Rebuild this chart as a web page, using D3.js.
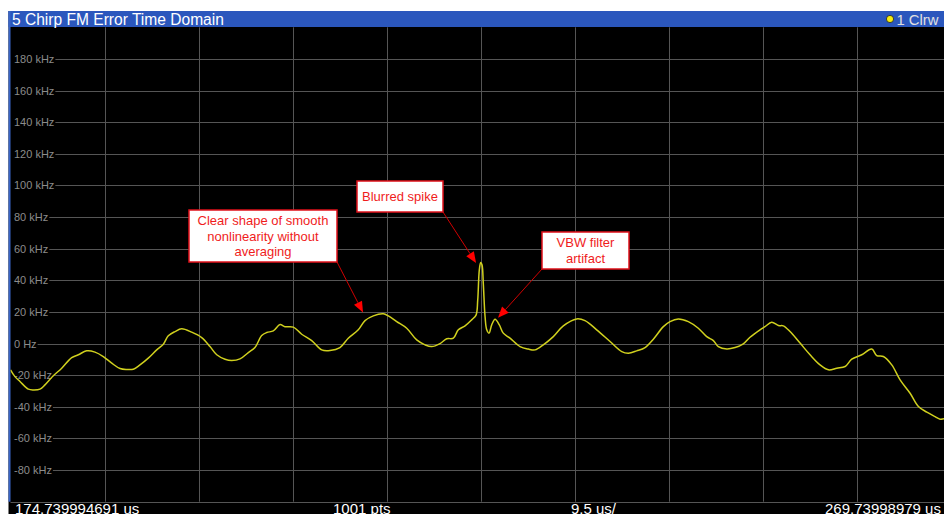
<!DOCTYPE html>
<html><head><meta charset="utf-8">
<script src="https://cdn.jsdelivr.net/npm/d3@7"></script>
<style>html,body{margin:0;padding:0;background:#fff;overflow:hidden}</style>
</head><body><svg id="c" width="944" height="514"></svg>
<script>
// ---- data ----
const xStart = 174.739994691;
const xEnd = 269.73998979;
const times = [174.74,175.19,175.70,176.54,177.04,177.72,178.22,179.06,179.91,180.92,181.59,182.43,183.27,184.11,184.96,185.80,186.47,187.14,187.81,188.65,189.50,190.17,190.67,191.35,192.02,193.03,194.04,194.88,195.56,196.40,197.07,197.91,198.75,199.42,200.10,200.61,201.27,201.95,202.45,203.29,204.14,205.15,206.16,206.99,208.00,208.84,209.85,210.53,211.37,212.38,212.88,213.73,214.74,215.75,216.59,217.26,218.10,218.78,219.45,219.95,220.63,221.30,221.74,221.91,222.07,222.21,222.34,222.47,222.65,222.82,223.05,223.32,223.66,224.09,224.49,225.17,226.18,227.02,227.70,228.53,229.54,230.55,231.90,232.74,233.92,235.27,236.45,237.12,237.96,238.80,239.64,240.65,241.32,242.16,243.17,244.18,245.03,245.70,246.20,247.05,247.89,248.72,249.40,250.41,250.91,251.59,252.26,252.76,253.44,254.45,255.46,256.47,257.31,258.16,259.00,259.67,260.68,261.69,262.19,262.86,263.71,264.55,265.56,266.40,267.25,268.08,268.59,268.99,269.74];
const values = [-16.6,-20.9,-24.0,-28.8,-29.3,-28.8,-26.1,-20.4,-15.6,-8.9,-7.1,-4.6,-5.4,-8.2,-12.4,-15.8,-16.4,-16.2,-13.5,-9.2,-4.0,-0.4,4.9,7.6,9.3,7.2,3.8,-1.9,-7.1,-9.9,-10.7,-9.7,-5.7,-2.5,5.1,7.0,8.0,12.0,10.7,10.4,5.9,1.9,-4.0,-4.4,-2.5,3.4,8.7,14.5,17.5,18.8,17.5,13.9,9.7,2.3,-0.8,-1.9,0.0,3.0,3.4,8.7,11.2,15.0,18.0,27.6,46.6,51.2,49.8,38.2,17.1,8.7,6.6,11.8,15.4,11.8,6.6,3.4,-1.9,-3.5,-4.0,-0.8,4.4,11.2,15.6,14.5,8.7,1.3,-5.1,-6.1,-4.6,-2.5,2.8,10.7,13.9,15.6,13.9,9.7,4.4,1.9,-1.9,-3.4,-2.5,-0.2,4.0,8.7,10.7,13.5,11.4,11.2,7.6,0.3,-7.1,-13.5,-16.6,-15.6,-14.5,-9.9,-7.1,-3.5,-7.6,-8.2,-13.5,-23.0,-31.4,-39.8,-43.4,-46.2,-47.8,-47.6,-47.4];
const yTickValues = [-80,-60,-40,-20,0,20,40,60,80,100,120,140,160,180];
const xDivisions = 10;
const bottomLabels = ["174.739994691 us","1001 pts","9.5 us/","269.73998979 us"];
const titleText = "5 Chirp FM Error Time Domain";
const traceLabel = "1 Clrw";
const annotationTexts = [["Clear shape of smooth","nonlinearity without","averaging"],["Blurred spike"],["VBW filter","artifact"]];
const annotationTargetTimes = [210.33, 221.74, 223.96];
const annotationTargetValues = [19.6, 51.0, 16.3];

// ---- layout ----
const W = 944, H = 514;
const plot = {left: 10.5, right: 951.5, top: 27.3, bottom: 501.7};
const boxes = [
  {x:189, y:210, w:148, h:52, ax:337, ay:262},
  {x:357, y:181, w:86, h:31, ax:443, ay:212},
  {x:542, y:232, w:87, h:37, ax:542, ay:269}
];
const FONT = "'Liberation Sans', Arial, sans-serif";

const svg = d3.select("#c");
const x = d3.scaleLinear().domain([xStart, xEnd]).range([plot.left, plot.right]);
const y = d3.scaleLinear().domain([-100, 200]).range([plot.bottom, plot.top]);

function fitText(sel, target) {
  const w = sel.node().getComputedTextLength();
  const fs = parseFloat(sel.style("font-size"));
  sel.style("font-size", (fs * target / w) + "px");
}

// backgrounds
svg.append("rect").attr("x",0).attr("y",0).attr("width",W).attr("height",H).attr("fill","#fff");
svg.append("rect").attr("x",8.5).attr("y",11).attr("width",W-8.5).attr("height",H-11).attr("fill","#000");
// title bar
svg.append("rect").attr("x",8.5).attr("y",11).attr("width",W-8.5).attr("height",16).attr("fill","#2b57bd");
// left blue border
svg.append("rect").attr("x",8.5).attr("y",11).attr("width",2).attr("height",plot.bottom-11).attr("fill","#3a66c8");

const tt = svg.append("text").attr("x",12).attr("y",24.5).attr("fill","#fff")
  .style("font-family",FONT).style("font-size","14.5px").text(titleText);
fitText(tt, 212);
svg.append("circle").attr("cx",890).attr("cy",19).attr("r",3.6).attr("fill","#f5ee10").attr("stroke","#222").attr("stroke-width",0.8);
const lt = svg.append("text").attr("x",896.5).attr("y",24.5).attr("fill","#e0e0e0")
  .style("font-family",FONT).style("font-size","14px").text(traceLabel);
fitText(lt, 42);

const gridColor = "#555";
// vertical grid
const vTicks = d3.range(1, xDivisions).map(i => xStart + i*(xEnd-xStart)/xDivisions);
svg.append("g").selectAll("line").data(vTicks).join("line")
  .attr("x1", d => Math.round(x(d))+0.5).attr("x2", d => Math.round(x(d))+0.5)
  .attr("y1", plot.top).attr("y2", plot.bottom)
  .attr("stroke", gridColor).attr("stroke-width",1);
// bottom border line
svg.append("line").attr("x1",plot.left).attr("x2",W).attr("y1",Math.round(plot.bottom)+0.5).attr("y2",Math.round(plot.bottom)+0.5)
  .attr("stroke",gridColor);

// horizontal grid with labels
const yg = svg.append("g");
yTickValues.forEach(v => {
  const yy = Math.round(y(v))+0.5;
  const t = yg.append("text").attr("x",14).attr("y",yy).attr("dy","0.35em")
    .attr("fill","#8c8c8c").style("font-family",FONT).style("font-size","11px")
    .text(v === 0 ? "0 Hz" : v + " kHz");
  const tw = t.node().getComputedTextLength();
  yg.append("line").attr("x1",14+tw+1).attr("x2",W).attr("y1",yy).attr("y2",yy)
    .attr("stroke",gridColor).attr("stroke-width",1);
});

// trace
const pts = times.map((t,i)=>[t, values[i]]);
svg.append("defs").append("clipPath").attr("id","clip").append("rect")
  .attr("x",plot.left).attr("y",plot.top).attr("width",plot.right-plot.left).attr("height",plot.bottom-plot.top);
svg.append("path").datum(pts).attr("clip-path","url(#clip)")
  .attr("d", d3.line().x(d=>x(d[0])).y(d=>y(d[1])).curve(d3.curveCatmullRom.alpha(0.5)))
  .attr("fill","none").attr("stroke","#d0d01e").attr("stroke-width",1.5);

// bottom labels
const bx = [15, 333, 571, 825];
bottomLabels.forEach((s,i)=>{
  svg.append("text").attr("x",bx[i]).attr("y",513.5).attr("fill","#fff")
    .style("font-family",FONT).style("font-size","15px").text(s);
});

// annotations
const ann = svg.append("g");
boxes.forEach((b,i)=>{
  const tx = x(annotationTargetTimes[i]), ty = y(annotationTargetValues[i]);
  const dx = tx-b.ax, dy = ty-b.ay, len = Math.hypot(dx,dy);
  const ux = dx/len, uy = dy/len, L = 11, hw = 4.5;
  const bxp = tx - ux*L, byp = ty - uy*L;
  ann.append("line").attr("x1",b.ax).attr("y1",b.ay).attr("x2",bxp).attr("y2",byp)
    .attr("stroke","#d00000").attr("stroke-width",1);
  ann.append("polygon").attr("points",[[tx,ty],[bxp-uy*hw,byp+ux*hw],[bxp+uy*hw,byp-ux*hw]].map(p=>p.join(",")).join(" "))
    .attr("fill","#ff0000");
  ann.append("rect").attr("x",b.x).attr("y",b.y).attr("width",b.w).attr("height",b.h)
    .attr("fill","#fff").attr("stroke","#e0101a").attr("stroke-width",1.5);
  const lines = annotationTexts[i];
  const cy = b.y + b.h/2, lh = 15.5;
  lines.forEach((ln,j)=>{
    ann.append("text").attr("x",b.x+b.w/2).attr("y",cy + (j-(lines.length-1)/2)*lh)
      .attr("dy","0.35em").attr("text-anchor","middle").attr("fill","#f01c1c")
      .style("font-family",FONT).style("font-size","13px").text(ln);
  });
});
</script></body></html>
